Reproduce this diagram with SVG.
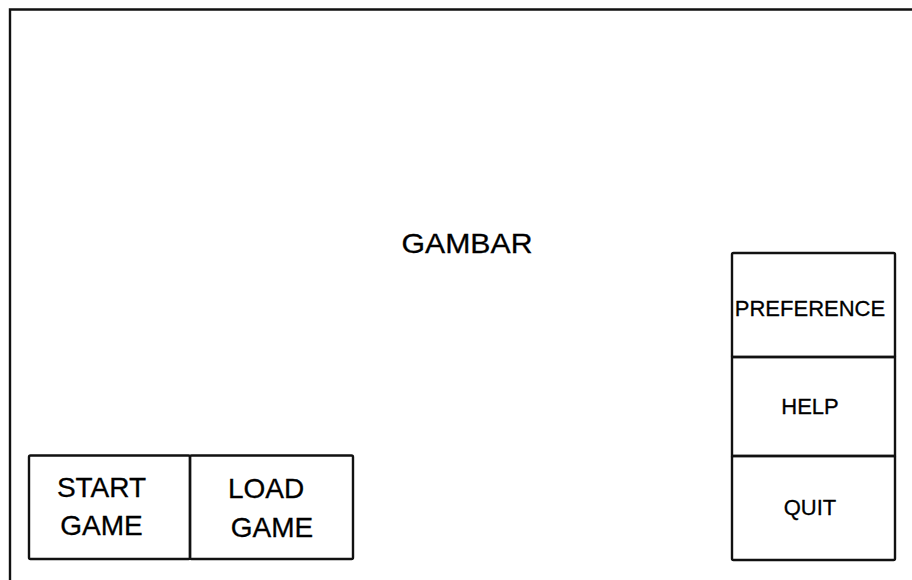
<svg xmlns="http://www.w3.org/2000/svg" width="912" height="580" viewBox="0 0 912 580">
  <style>
    .box { fill: none; stroke: #111; stroke-width: 2.4; }
    .frame { fill: none; stroke: #111; stroke-width: 2.4; }
    .t { font-family: "Liberation Sans", Arial, sans-serif; fill: #000; text-anchor: middle; stroke: #000; stroke-width: 0.3; }
    .big { font-size: 28px; }
    .mid { font-size: 22px; }
  </style>
  <rect x="0" y="0" width="912" height="580" fill="#ffffff"/>
  <g id="screen">
    <path class="frame" d="M10,590 L10,9.5 L920,9.5"/>
    <text class="t big" x="467" y="253" textLength="131" lengthAdjust="spacingAndGlyphs">GAMBAR</text>
  </g>
  <g id="start-game">
    <rect class="box" x="29" y="455.5" width="161" height="103.5" rx="1.5"/>
    <text class="t big" x="101.5" y="497">START</text>
    <text class="t big" x="101.5" y="535">GAME</text>
  </g>
  <g id="load-game">
    <rect class="box" x="190" y="455.5" width="163" height="103.5" rx="1.5"/>
    <text class="t big" x="266" y="498">LOAD</text>
    <text class="t big" x="272" y="537">GAME</text>
  </g>
  <g id="preference">
    <rect class="box" x="732" y="253" width="163" height="104" rx="1.5"/>
    <text class="t mid" x="810" y="316">PREFERENCE</text>
  </g>
  <g id="help">
    <rect class="box" x="732" y="357" width="163" height="99"/>
    <text class="t mid" x="810" y="414">HELP</text>
  </g>
  <g id="quit">
    <rect class="box" x="732" y="456" width="163" height="104" rx="1.5"/>
    <text class="t mid" x="810" y="515">QUIT</text>
  </g>
</svg>
